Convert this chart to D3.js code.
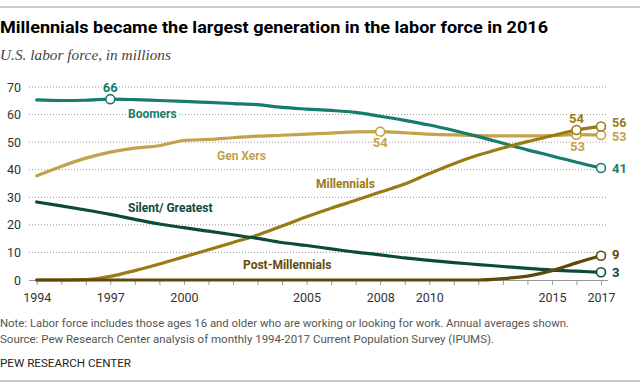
<!DOCTYPE html>
<html><head><meta charset="utf-8">
<script src="https://cdn.jsdelivr.net/npm/d3@7"></script>
<style>
body{margin:0;background:#fff;}
svg{display:block;}
text{font-family:Roboto,"Liberation Sans",Arial,sans-serif;}
</style></head>
<body>
<svg id="c" width="640" height="386"></svg>
<script>
const years = d3.range(1994, 2018);
const boomers   = [65.3,65.1,65.2,65.6,65.4,65.1,64.8,64.4,64.0,63.6,62.6,62.0,61.5,60.8,59.4,57.9,56.2,54.2,52.0,49.6,47.2,45.0,42.7,40.6];
const genXers   = [37.8,41.2,44.2,46.4,47.8,48.7,50.6,51.0,51.6,52.2,52.5,52.9,53.3,53.7,53.8,53.4,52.9,52.6,52.4,52.3,52.3,52.4,52.7,52.6];
const millennials=[0,0,0.1,1.3,3.4,5.8,8.4,11.0,13.6,16.3,19.6,22.9,26.0,28.9,31.9,34.8,38.6,42.2,45.3,47.9,50.2,52.3,54.4,55.7];
const silent    = [28.3,26.9,25.4,23.8,22.0,20.3,19.0,17.7,16.4,15.1,13.6,12.5,11.3,10.1,9.1,8.0,7.1,6.3,5.6,4.9,4.2,3.6,3.2,2.8];
const postMill  = [0,0,0,0,0,0,0,0,0,0,0,0,0,0,0,0,0,0,0,0.5,1.4,3.4,6.2,8.8];
const yTicks = [0,10,20,30,40,50,60,70];
const xTickLabels = [1994,1997,2000,2005,2008,2010,2015,2017];

const series = [
  {name:"Gen Xers", values:genXers, color:"#c2a24a"},
  {name:"Boomers", values:boomers, color:"#177c6c"},
  {name:"Millennials", values:millennials, color:"#9a7a14"},
  {name:"Silent/ Greatest", values:silent, color:"#0c4a3a"},
  {name:"Post-Millennials", values:postMill, color:"#5f4a0c"}
];
const byName = Object.fromEntries(series.map(s=>[s.name,s]));

const svg = d3.select("#c");
const x = d3.scaleLinear().domain([1994,2017]).range([36.7,601]);
const y = d3.scaleLinear().domain([0,70]).range([280,87]);

// frame lines
svg.append("line").attr("x1",0).attr("x2",640).attr("y1",7).attr("y2",7).attr("stroke","#999").attr("stroke-width",1);
svg.append("line").attr("x1",0).attr("x2",640).attr("y1",381).attr("y2",381).attr("stroke","#999").attr("stroke-width",1);

svg.append("text").attr("x",0).attr("y",33).text("Millennials became the largest generation in the labor force in 2016")
  .attr("font-size",17).attr("font-weight","bold").attr("fill","#000")
  .attr("textLength",548).attr("lengthAdjust","spacingAndGlyphs");
svg.append("text").attr("x",0).attr("y",60).text("U.S. labor force, in millions")
  .style("font-family","'Liberation Serif','DejaVu Serif',serif")
  .attr("font-style","italic").attr("font-size",14).attr("fill","#444")
  .attr("textLength",171).attr("lengthAdjust","spacingAndGlyphs");

// grid
const grid = svg.append("g");
yTicks.filter(t=>t>0).forEach(t=>{
  grid.append("line").attr("x1",29).attr("x2",608).attr("y1",y(t)).attr("y2",y(t))
    .attr("stroke","#999").attr("stroke-width",1).attr("stroke-dasharray","1,2");
});
// y labels
const yAxis = d3.axisLeft(y).tickValues(yTicks).tickSize(0).tickPadding(0);
const ya = svg.append("g").attr("transform","translate(21,0)").call(yAxis);
ya.select(".domain").remove();
ya.selectAll("text").attr("font-size",12.5).attr("fill","#333").attr("font-family","Roboto,Arial,sans-serif");

// x axis
const xAxis = d3.axisBottom(x).tickValues(years).tickSize(5).tickFormat(d=>xTickLabels.includes(d)?d:"");
const xa = svg.append("g").attr("transform","translate(0,280)").call(xAxis);
xa.select(".domain").attr("d","M29,0.5H608").attr("stroke","#999");
xa.selectAll(".tick line").attr("stroke","#999");
xa.selectAll("text").attr("font-size",12.5).attr("fill","#333").attr("dy","1.1em").attr("font-family","Roboto,Arial,sans-serif");

// lines
const line = d3.line().x((d,i)=>x(years[i])).y(d=>y(d)).curve(d3.curveMonotoneX);
series.forEach(s=>{
  svg.append("path").attr("d",line(s.values)).attr("fill","none").attr("stroke",s.color)
    .attr("stroke-width",3.2).attr("stroke-linejoin","round").attr("stroke-linecap","round");
});

// markers
const markers = [
  ["Boomers",1997],["Boomers",2017],["Gen Xers",2008],["Gen Xers",2016],["Gen Xers",2017],
  ["Millennials",2016],["Millennials",2017],["Post-Millennials",2017],["Silent/ Greatest",2017]
];
markers.forEach(([n,yr])=>{
  const s = byName[n];
  svg.append("circle").attr("cx",x(yr)).attr("cy",y(s.values[yr-1994])).attr("r",4.5)
    .attr("fill","#fff").attr("stroke",s.color).attr("stroke-width",1.6);
});

function label(txt,xx,yy,color,anchor,size){
  svg.append("text").attr("x",xx).attr("y",yy).text(txt).attr("fill",color)
    .attr("font-size",size||12).attr("font-weight","bold").attr("text-anchor",anchor||"start")
    .attr("stroke","#fff").attr("stroke-width",3).attr("paint-order","stroke").attr("stroke-linejoin","round");
}
const C = n=>byName[n].color;
label("Boomers",128,118,C("Boomers"));
label("Gen Xers",217,159.5,C("Gen Xers"));
label("Millennials",316,188,C("Millennials"));
label("Silent/ Greatest",128,212,C("Silent/ Greatest"));
label("Post-Millennials",243,269,C("Post-Millennials"));

const vl = (n,yr)=>byName[n].values[yr-1994];
label(String(Math.round(vl("Boomers",1997))),x(1997),y(vl("Boomers",1997))-7,C("Boomers"),"middle",13);
label(String(Math.round(vl("Gen Xers",2008))),x(2008),y(vl("Gen Xers",2008))+15,C("Gen Xers"),"middle",13);
label(String(Math.round(vl("Gen Xers",2016))),x(2016)+1,y(vl("Gen Xers",2016))+16,C("Gen Xers"),"middle",13);
label(String(Math.round(vl("Millennials",2016))),x(2016),y(vl("Millennials",2016))-7,C("Millennials"),"middle",13);
label(String(Math.round(vl("Millennials",2017))),x(2017)+11,y(vl("Millennials",2017))+0.5,C("Millennials"),"start",12.5);
label(String(Math.round(vl("Gen Xers",2017))),x(2017)+11,y(vl("Gen Xers",2017))+6,C("Gen Xers"),"start",12.5);
label(String(Math.round(vl("Boomers",2017))),x(2017)+11,y(vl("Boomers",2017))+4.5,C("Boomers"),"start",13);
label(String(Math.round(vl("Post-Millennials",2017))),x(2017)+11,y(vl("Post-Millennials",2017))+3.5,C("Post-Millennials"),"start",13);
label(String(Math.round(vl("Silent/ Greatest",2017))),x(2017)+11,y(vl("Silent/ Greatest",2017))+4.5,C("Silent/ Greatest"),"start",13);

// footer
svg.append("text").attr("x",0).attr("y",327).attr("font-size",11).attr("fill","#555")
  .text("Note: Labor force includes those ages 16 and older who are working or looking for work. Annual averages shown.")
  .attr("textLength",569).attr("lengthAdjust","spacingAndGlyphs");
svg.append("text").attr("x",0).attr("y",343).attr("font-size",11).attr("fill","#555")
  .text("Source: Pew Research Center analysis of monthly 1994-2017 Current Population Survey (IPUMS).")
  .attr("textLength",494).attr("lengthAdjust","spacingAndGlyphs");
svg.append("text").attr("x",0).attr("y",367).attr("font-size",11).attr("fill","#222")
  .text("PEW RESEARCH CENTER").attr("textLength",131).attr("lengthAdjust","spacingAndGlyphs");
</script>
</body></html>
